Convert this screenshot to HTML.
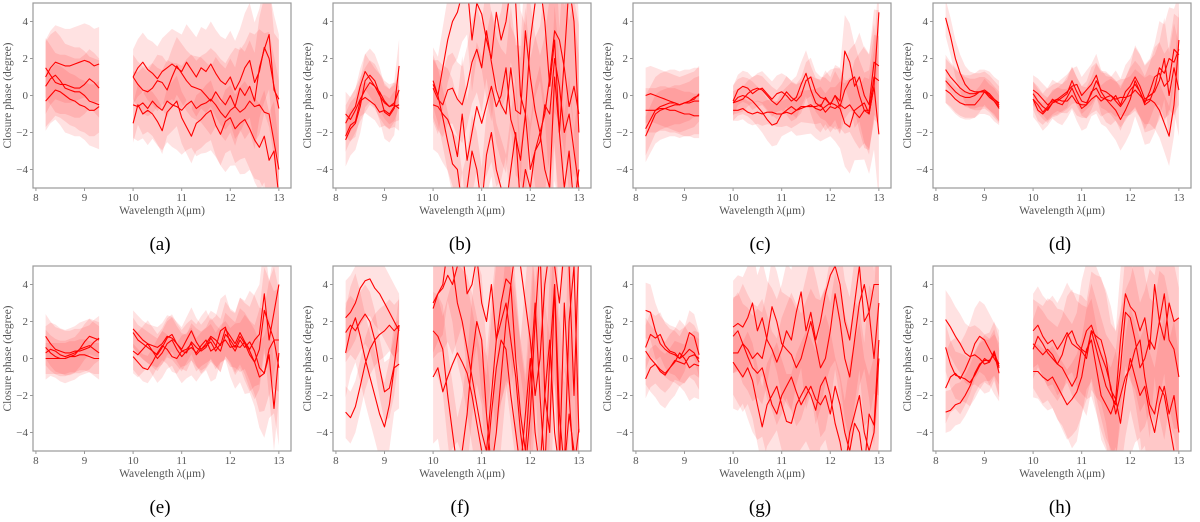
<!DOCTYPE html>
<html><head><meta charset="utf-8">
<style>
html,body{margin:0;padding:0;background:#fff;width:1200px;height:522px;overflow:hidden;}
svg{display:block;font-family:"Liberation Serif",serif;}
</style></head>
<body>
<svg id="fig" width="1200" height="522" viewBox="0 0 1200 522" xmlns="http://www.w3.org/2000/svg"></svg>
<script>
// ---- data ----
const panelLetters = ["a","b","c","d","e","f","g","h"];
const seg1Wave = [8.2,8.3,8.4,8.5,8.6,8.7,8.8,8.9,9.0,9.1,9.2,9.3];
const seg2Wave = [10.0,10.1,10.2,10.3,10.4,10.5,10.6,10.7,10.8,10.9,11.0,11.1,11.2,11.3,11.4,11.5,11.6,11.7,11.8,11.9,12.0,12.1,12.2,12.3,12.4,12.5,12.6,12.7,12.8,12.9,13.0];
const xTicks = [8,9,10,11,12,13];
const yTicks = [-4,-2,0,2,4];
const sigmaKnots = [10,11,12,13];
const lineSigmaScale = [1.0,0.8,1.2,0.7];

const seg1A = [[1.0,1.5,1.8,1.7,1.6,1.6,1.7,1.8,1.9,1.8,1.6,1.7],[1.5,1.1,0.7,0.6,0.6,0.5,0.4,0.4,0.6,0.9,0.7,0.4],[0.5,0.9,1.1,0.8,0.4,0.3,0.2,0.2,0.0,-0.3,-0.4,-0.5],[-0.3,0.0,0.3,0.2,0.0,-0.2,-0.3,-0.5,-0.6,-0.8,-0.8,-0.6]];
const seg2A = [[1.0,1.5,1.8,1.4,1.2,0.9,1.3,1.5,1.7,1.5,1.3,1.8,1.4,1.0,1.5,1.3,1.7,1.2,0.8,0.6,1.0,0.3,0.8,1.5,1.9,0.7,1.3,2.6,2.0,0.5,-0.7],[1.0,0.6,0.3,0.2,0.4,0.8,0.7,0.3,1.0,1.6,1.2,0.8,0.5,0.4,0.3,0.0,-0.3,0.2,-0.2,-0.5,0.0,-0.6,0.4,0.0,0.5,-0.3,1.5,2.5,3.3,0.3,-0.2],[-0.5,-0.6,-0.4,-0.7,-0.3,-0.6,-0.8,-0.3,-0.5,-0.6,-0.8,-0.5,-0.3,-0.7,-0.5,-0.4,-0.2,-0.5,-0.9,-1.2,-0.8,-0.6,-0.9,-0.7,-0.3,-0.6,-0.5,-0.9,-1.0,-2.5,-4.0],[-1.5,-0.5,-1.0,-0.8,-1.0,-1.4,-1.9,-0.9,-0.6,-0.3,-1.2,-1.7,-2.2,-1.5,-1.3,-1.0,-0.8,-1.6,-2.1,-1.4,-1.2,-1.8,-1.5,-1.3,-1.8,-2.4,-2.8,-2.2,-3.5,-3.0,-5.5]];
const seg1B = [[-1.0,-1.3,-0.8,-0.2,0.3,0.7,0.5,0.0,-0.4,-0.6,-0.5,-0.7],[-1.5,-1.0,-0.6,0.5,1.3,0.9,0.5,0.2,-0.3,-0.6,-0.4,0.3],[-2.4,-1.8,-1.5,-0.6,0.8,1.1,0.8,0.1,-0.9,-1.1,-0.7,1.6],[-2.2,-1.6,-1.4,-0.3,-0.1,-0.3,-0.5,-0.9,-0.8,-1.0,-0.6,-0.5]];
const seg2B = [[0.6,0.0,1.5,3.0,4.0,4.5,5.5,6,3,5,4.4,3.0,2.0,4.5,3.0,4.0,6,5.0,0.0,-1,3.0,5,6,4.0,0.5,3.0,-2,2,6,4,-2],[0.4,-0.2,-0.5,0.3,0.4,-0.2,-0.5,0.5,1.8,2.5,1.5,3.5,1.8,0.3,-0.5,-1.0,1.5,-0.8,-1.0,3.5,1.0,-0.8,-2.0,-1.0,1.0,3.5,3.0,1.5,-0.6,0.5,-1.0],[-0.5,-0.6,-1.0,-1.3,-2.0,-3.3,-1.0,-3.5,-2.0,-0.6,-1.5,-0.5,0.5,-0.6,0.0,1.5,-1.3,-2.2,-3.5,-1.0,-4.0,-3.0,-2.5,-0.5,-1.0,2.0,0.5,-2.0,-1.0,-3.0,-5],[0.8,0.0,-1.2,-2.5,-3.7,-4.0,-6,-5,-3,-4,-6,-3.2,-2,-4,-5,-6,-4,-2,-6,-4,-5,-3,-2,-4,-5,1,-2,-5,-3,-6,-4]];
const seg1C = [[0.0,0.1,0.0,-0.1,-0.2,-0.3,-0.4,-0.5,-0.4,-0.3,-0.2,0.1],[-0.8,-0.8,-0.8,-0.7,-0.7,-0.8,-0.8,-0.9,-1.0,-1.0,-1.1,-1.1],[-1.8,-1.3,-0.8,-0.6,-0.5,-0.4,-0.4,-0.5,-0.4,-0.4,-0.3,-0.3],[-2.2,-1.6,-1.0,-0.8,-0.7,-0.6,-0.5,-0.5,-0.4,-0.3,-0.1,0.0]];
const seg2C = [[-0.3,0.3,0.5,0.4,0.1,0.3,0.4,0.1,-0.2,0.1,0.2,0.0,-0.3,-0.1,0.6,1.2,0.3,-0.4,-0.6,-0.1,-0.5,0.0,-0.3,2.4,1.8,0.5,1.0,0.0,-0.5,1.8,1.6],[-0.4,-0.3,-0.2,0.1,0.3,0.4,0.3,0.0,-0.3,-0.5,-0.2,0.2,-0.1,-0.3,0.0,0.8,1.0,0.2,-0.1,-0.2,-0.5,0.0,-0.6,0.3,0.8,1.0,0.0,-0.8,-0.8,1.0,0.8],[-0.4,-0.1,0.0,-0.1,-0.3,-0.6,-0.9,-1.3,-1.6,-1.5,-1.0,-0.8,-0.6,-0.8,-0.7,-0.6,-0.5,-0.7,-0.8,-0.6,-0.4,-0.5,-0.7,-1.5,-1.7,-0.8,-0.6,-0.4,-1.0,0.5,-2.1],[-0.8,-0.8,-0.7,-0.9,-1.0,-0.9,-1.0,-0.9,-0.9,-1.0,-1.0,-0.9,-1.0,-0.8,-0.6,-0.6,-0.6,-0.6,-0.5,-0.9,-0.6,-0.7,-0.5,-0.7,-0.5,-0.9,-1.2,-0.8,-1.0,0.5,4.5]];
const seg1D = [[4.2,3.2,2.0,1.2,0.6,0.3,0.2,0.2,0.3,0.1,-0.2,-0.5],[1.4,1.0,0.7,0.4,0.2,0.1,0.1,0.2,0.2,0.0,-0.3,-0.6],[0.8,0.5,0.2,0.0,-0.1,-0.1,0.0,0.2,0.2,0.1,-0.2,-0.4],[0.3,0.1,-0.2,-0.4,-0.5,-0.5,-0.5,-0.2,0.2,-0.1,-0.3,-0.7]];
const seg2D = [[0.3,0.1,-0.2,-0.5,-0.3,-0.2,0.0,0.2,0.5,0.6,0.0,0.3,0.6,1.1,0.2,-0.2,-0.3,0.0,-0.5,0.2,0.5,1.0,0.5,-0.2,0.0,0.2,0.8,2.0,0.0,1.5,0.3],[0.1,-0.3,-0.6,-0.8,-0.4,-0.3,-0.1,0.1,0.8,0.2,-0.3,-0.4,0.1,0.8,0.3,0.2,0.0,-0.3,-0.6,-0.2,0.3,0.6,0.2,-0.4,0.2,1.0,1.2,0.5,0.8,2.5,2.2],[-0.2,-0.5,-0.9,-0.6,-0.2,-0.4,-0.5,-0.1,0.4,-0.2,-0.7,-0.5,0.2,0.4,-0.1,-0.2,-0.5,-0.8,-1.3,-0.8,-0.2,0.8,0.2,-0.5,-0.3,0.4,1.5,1.2,2.0,1.8,2.5],[-0.2,-0.8,-1.0,-0.7,-0.4,-0.2,-0.3,-0.3,0.0,-0.4,-0.5,-0.5,-0.2,0.0,-0.3,-0.1,0.0,-0.2,-0.1,-0.1,0.0,0.3,0.0,-0.3,-0.2,-0.4,-0.8,-1.5,-2.2,-0.5,3.0]];
const seg1E = [[1.2,0.8,0.5,0.4,0.3,0.3,0.4,0.4,0.5,0.6,0.9,1.1],[0.6,0.3,0.1,0.0,0.0,0.1,0.2,0.5,0.9,1.2,1.1,1.0],[0.3,0.5,0.4,0.2,0.1,0.2,0.3,0.5,0.6,0.7,0.5,0.3],[0.0,0.0,0.0,0.0,0.0,0.1,0.1,0.2,0.2,0.1,0.0,0.0]];
const seg2E = [[1.6,1.3,1.0,0.8,0.7,0.6,0.8,1.2,1.1,0.8,0.5,1.0,1.5,0.9,0.5,0.8,1.2,1.0,0.7,1.6,1.2,0.8,1.4,0.9,0.5,1.0,1.3,3.5,1.0,2.5,4.0],[1.4,1.0,0.8,0.6,0.4,0.2,0.6,1.1,1.3,0.8,0.4,0.3,0.9,0.6,0.4,0.6,1.1,0.7,0.4,1.3,1.0,0.6,1.2,0.8,0.2,-0.2,0.5,2.6,1.8,1.0,1.0],[0.4,0.2,0.5,0.8,0.4,0.0,0.3,0.8,1.0,0.5,0.1,0.4,0.6,0.3,0.7,1.0,0.4,0.6,1.5,1.7,0.8,0.4,1.0,0.6,0.9,0.4,-0.5,-0.8,0.5,1.0,-0.5],[0.1,-0.2,-0.5,-0.6,-0.2,0.3,0.7,0.5,0.1,0.0,0.4,0.5,0.8,0.2,0.5,0.7,0.9,0.4,0.8,1.0,0.6,0.7,0.6,0.9,0.4,-0.2,-1.0,-0.8,0.2,-2.7,0.3]];
const seg1F = [[2.2,2.5,3.0,3.8,4.2,4.3,3.8,3.5,3.0,2.5,2.0,1.5],[1.4,1.8,1.5,2.0,2.4,2.0,1.0,-0.5,-1.8,-1.6,-0.4,1.8],[0.3,1.5,2.2,1.2,0.0,-1.0,-2.0,-3.0,-3.7,-2.5,-0.5,-0.3],[-2.9,-3.2,-2.6,-1.5,-0.3,0.5,1.0,1.3,1.5,1.8,1.5,1.8]];
const seg2F = [[3.0,3.5,3.8,4.5,4.0,5,6,3.5,4.0,5.5,3,2,4,1,3,4.3,4,6,5,3,1,-2,0,4,6,5,3,6,5,-2,6],[2.7,3.5,4.0,6,5,3.0,2.0,0.5,-1.0,-2.5,-4,-5,-2,1,2,3,1,-1,-4,-6,-3,2,6,-2,-4,4,-3,-6,2,5,-4],[-1.0,-0.5,-1.8,-1.0,-0.3,0.3,-0.2,-0.8,-2,-3.5,-5,-6,-3,-0.5,1,0.5,-2,-4,-6,-3,0,-4,-6,-2,1,-4,-6,3,-2,-6,-3.8],[1.5,1.2,0.5,-2.0,-4,-6,-5,-3,0,2,1,-3,-6,-4,-1,2,4,0,-3,-5,-1,3,-2,-6,0,4,-5,-6,-3,-5,-6]];
const seg1G = [[2.6,2.5,1.5,0.8,0.5,0.3,0.2,0.0,0.2,0.5,0.3,-0.2],[0.6,1.3,1.1,1.3,0.7,0.4,0.3,0.0,0.5,1.4,1.2,0.2],[0.4,0.0,-0.3,-0.7,-0.9,-0.5,-0.2,0.3,0.0,-0.5,-0.3,-0.4],[-1.1,-0.5,-0.3,-0.6,-0.8,-0.5,-0.1,-0.2,-0.3,0.1,0.2,0.0]];
const seg2G = [[1.7,1.9,1.7,2.2,3.0,1.5,2.2,1.0,0.5,-0.2,0.5,1.5,1.0,2.5,3.6,1.5,2.5,1.0,2.0,3.5,4.5,5,4,2,1,3,5,2,2.5,4,4],[1.2,1.5,0.8,0.5,0.0,0.3,0.0,1.2,2.8,2.0,0.8,0.5,0.2,-0.5,0.0,1.0,2.0,0.8,-0.5,0.0,1.5,3.5,2,0,-1,1,3,4,2.5,0,3],[0.3,0.3,0.8,0.1,-0.5,-0.8,-0.5,-1.5,-2.5,-3.0,-2.0,-1.5,-1.0,-1.8,-2.5,-2.0,-1.5,-2.2,-2.5,-2.0,-3.0,-1.5,-2.5,-4,-5,-3.5,-4,-6,-3,-3.6,1],[-0.2,-0.6,-1.0,-0.5,-1.2,-2.5,-3.7,-2.5,-2.0,-1.5,-2.5,-3.4,-3.5,-2.5,-2.0,-1.5,-2.0,-2.8,-1.5,-1.0,-2.0,-3.5,-4.5,-6,-4,-3,-2,-4,-5,-4,0]];
const seg1H = [[2.1,1.7,1.2,0.8,0.3,0.1,0.2,0.0,-0.3,-0.2,0.4,-0.5],[0.6,-0.3,-0.9,-1.0,-1.1,-1.3,-0.9,-0.4,0.0,-0.2,0.3,-0.8],[-1.6,-1.0,-0.8,-1.1,-0.6,0.0,0.8,1.2,1.0,0.5,0.0,-0.4],[-2.9,-2.8,-2.5,-2.4,-2.0,-1.5,-0.8,-0.3,-0.1,-0.1,0.2,-0.3]];
const seg2H = [[1.5,1.8,1.2,0.8,1.0,0.5,0.9,1.4,0.8,0.6,0.4,0.0,1.5,1.2,1.0,0.0,-1.7,-2.2,1.0,3.5,2.8,2.5,1.5,2.2,0.5,4.0,2.0,1.0,3,2,2.2],[0.5,1.2,0.8,0.3,0.0,-0.3,0.2,1.2,1.5,0.8,0.5,0.3,1.5,0.5,-0.5,-1.5,-2.0,-2.5,-0.5,2.5,2.2,1.0,-0.5,0.0,1.0,0.5,2.0,3.5,1.0,0.5,-1.0],[0.8,0.5,0.2,0.5,0.2,-0.3,-0.5,-1.0,-1.5,-1.0,0.6,1.5,1.8,1.0,0.2,-0.5,-1.5,-3.0,-2.0,-1.0,-0.5,0.5,1.0,-1.0,-2.5,-3.0,-1.5,-2.0,-3.5,-5,-5],[-0.7,-0.7,-1.0,-1.2,-1.0,-1.5,-2.0,-2.5,-2.2,-1.8,-1.0,0.5,1.0,-0.5,-2.0,-2.5,-3.0,-2.2,-3.5,-1.5,0.0,-1.0,-2.0,-1.5,-3.0,-4.0,-2.5,-1.5,-3.0,-2,-4]];

const seg1Values = [seg1A,seg1B,seg1C,seg1D,seg1E,seg1F,seg1G,seg1H];
const seg2Values = [seg2A,seg2B,seg2C,seg2D,seg2E,seg2F,seg2G,seg2H];
const seg1Sigma = [2.0,1.2,1.5,1.0,1.2,2.0,1.5,1.6];
const seg2SigmaA=[1.5,2.0,2.5,4.0], seg2SigmaB=[2.0,3.0,5.0,6.0], seg2SigmaC=[0.8,1.0,1.5,3.0], seg2SigmaD=[0.8,1.0,1.5,2.5];
const seg2SigmaE=[1.0,1.2,1.5,3.5], seg2SigmaF=[3.0,5.0,6.0,7.0], seg2SigmaG=[2.5,3.5,5.0,6.0], seg2SigmaH=[2.0,3.0,4.0,6.0];
const seg2Sigma = [seg2SigmaA,seg2SigmaB,seg2SigmaC,seg2SigmaD,seg2SigmaE,seg2SigmaF,seg2SigmaG,seg2SigmaH];

// ---- drawing ----
const NS="http://www.w3.org/2000/svg";
const svg=document.getElementById('fig');
const colLeft=[33,333,633,933], rowTop=[3,266];
const PW=258, PH=185;
const XMIN=7.94, XMAX=13.25, YMIN=-5, YMAX=5;
function mk(tag,attrs,parent){const e=document.createElementNS(NS,tag);for(const k in attrs)e.setAttribute(k,attrs[k]);(parent||svg).appendChild(e);return e;}
function interpSigma(knots,w){
  if(w<=sigmaKnots[0])return knots[0];
  for(let i=1;i<sigmaKnots.length;i++){if(w<=sigmaKnots[i]){const t=(w-sigmaKnots[i-1])/(sigmaKnots[i]-sigmaKnots[i-1]);return knots[i-1]+t*(knots[i]-knots[i-1]);}}
  return knots[knots.length-1];
}
for(let p=0;p<8;p++){
  const L=colLeft[p%4], T=rowTop[Math.floor(p/4)];
  const xs=v=>L+(v-XMIN)/(XMAX-XMIN)*PW;
  const ys=v=>T+(YMAX-v)/(YMAX-YMIN)*PH;
  const g=mk('g',{});
  
  
  const cp=mk('clipPath',{id:'clip'+p},g);
  mk('rect',{x:L,y:T,width:PW,height:PH},cp);
  const plot=mk('g',{'clip-path':'url(#clip'+p+')'},g);
  for(let s=0;s<2;s++){
    const waves=s===0?seg1Wave:seg2Wave;
    const vals=s===0?seg1Values[p]:seg2Values[p];
    vals.forEach((line,li)=>{
      const sig=waves.map(w=>(s===0?seg1Sigma[p]:interpSigma(seg2Sigma[p],w))*lineSigmaScale[li]);
      let up=line.map((v,i)=>xs(waves[i]).toFixed(1)+','+ys(v+sig[i]).toFixed(1));
      let dn=line.map((v,i)=>xs(waves[i]).toFixed(1)+','+ys(v-sig[i]).toFixed(1)).reverse();
      const band=mk('polygon',{points:up.concat(dn).join(' '),fill:'#ff2020','fill-opacity':'0.13'},plot);
      
      
    });
  }
  for(let s=0;s<2;s++){
    const waves=s===0?seg1Wave:seg2Wave;
    const vals=s===0?seg1Values[p]:seg2Values[p];
    vals.forEach(line=>{
      const pl=mk('polyline',{points:line.map((v,i)=>xs(waves[i]).toFixed(1)+','+ys(v).toFixed(1)).join(' '),fill:'none',stroke:'#f00','stroke-width':'1.1','stroke-linejoin':'round'},plot);
      
      
    });
  }
  const fr=mk('rect',{x:L,y:T,width:PW,height:PH,fill:'none',stroke:'#999','stroke-width':'1.2'},g);
  
  
  xTicks.forEach(t=>{
    const x=xs(t);
    mk('line',{x1:x,x2:x,y1:T+PH,y2:T+PH+3,stroke:'#999'},g);
    const tx=mk('text',{x:x,y:T+PH+13,'text-anchor':'middle','font-size':'11',fill:'#555'},g);
    tx.textContent=t;
    
    
  });
  yTicks.forEach(t=>{
    const y=ys(t);
    mk('line',{x1:L-3,x2:L,y1:y,y2:y,stroke:'#999'},g);
    const tx=mk('text',{x:L-5,y:y+3.5,'text-anchor':'end','font-size':'11',fill:'#555'},g);
    tx.textContent=t<0?'\u2212'+Math.abs(t):t;
    
    
  });
  const xl=mk('text',{x:L+PW/2,y:T+PH+26,'text-anchor':'middle','font-size':'11.5',fill:'#555'},g);
  xl.textContent='Wavelength \u03BB(\u03BCm)';
  
  
  const yl=mk('text',{x:0,y:0,'text-anchor':'middle','font-size':'11.5',fill:'#555',transform:'translate('+(L-22)+','+(T+PH/2)+') rotate(-90)'},g);
  yl.textContent='Closure phase (degree)';
  
  
  const cap=mk('text',{x:L+PW/2-2,y:T+PH+62,'text-anchor':'middle','font-size':'19',fill:'#000'},g);
  cap.textContent='('+panelLetters[p]+')';
  
  
}
</script>
</body></html>
